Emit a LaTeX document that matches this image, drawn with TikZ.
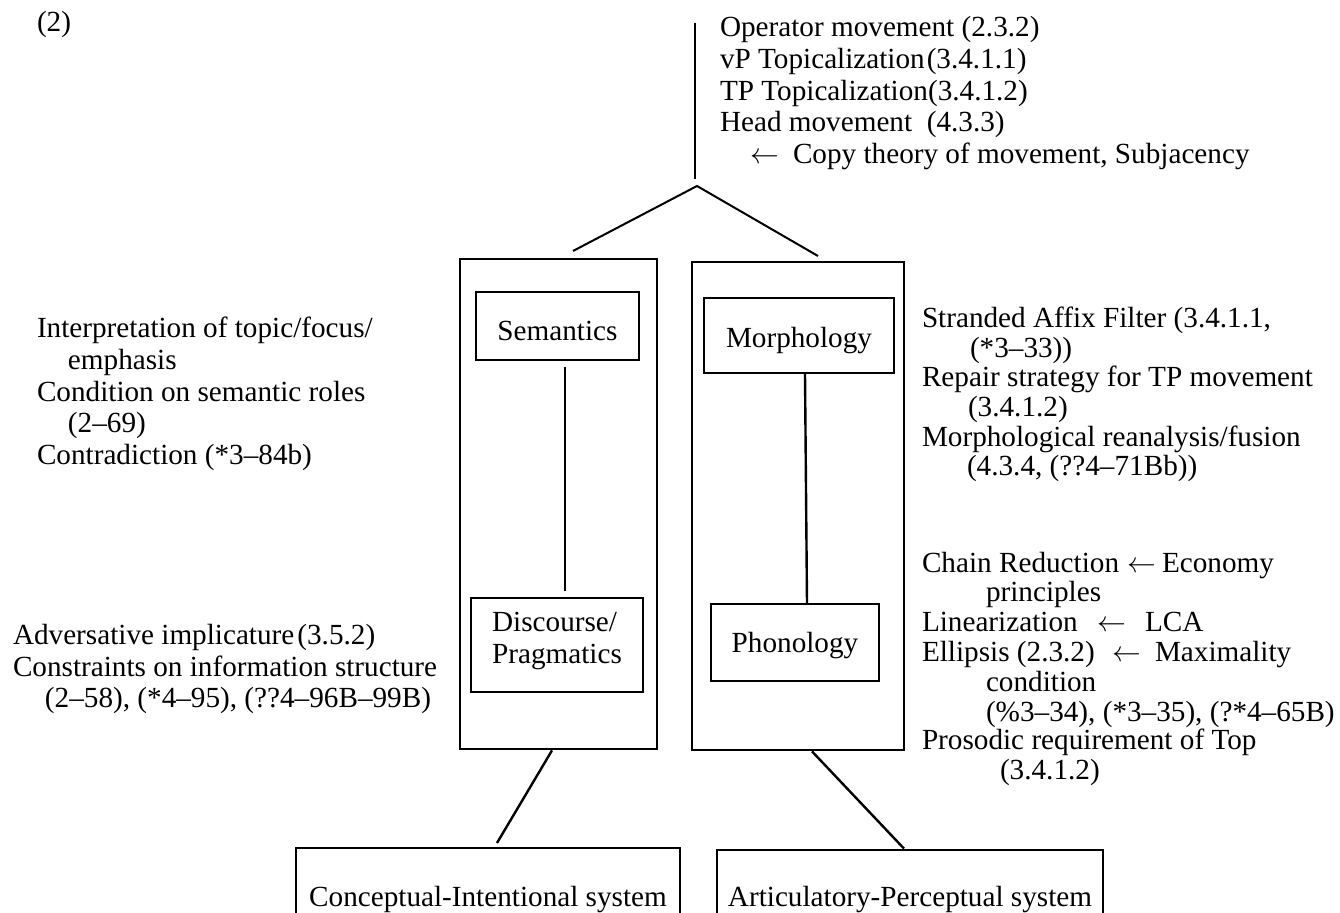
\documentclass[tikz,border=0pt]{standalone}
\usepackage{fontspec}
\setmainfont{Liberation Serif}
\newcommand{\bodysize}{\fontsize{14.6pt}{15.85pt}\selectfont}
\begin{document}
\begin{tikzpicture}[x=0.5pt,y=-0.5pt,
  txt/.style={anchor=base west, inner sep=0pt, outer sep=0pt, font=\bodysize},
  arrowmark/.style={txt, text height=6pt, text depth=0pt},
  module/.style={draw, line width=1.4pt, inner sep=0pt},
  unit/.style={draw, line width=0.75pt, inner sep=0pt, font=\bodysize},
  system/.style={draw, line width=1.4pt, inner sep=0pt, font=\bodysize},
  tree/.style={line width=1pt},
  link/.style={line width=0.75pt, shorten <=3pt, shorten >=3pt},
  linkthick/.style={line width=1.2pt},
  leg/.style={line width=1.2pt}]
\useasboundingbox (0,0) rectangle (1340,913);
\clip (0,0) rectangle (1340,913);

% example number
\node[txt] (num) at (37,32) {(2)};

% syntax: stem and branching point
\coordinate (root) at (695,23);
\coordinate (stem) at (695,179);
\coordinate (apex) at (697,186);
\coordinate (lfoot) at (573,251);
\coordinate (rfoot) at (818,256);
\draw[tree] (root) -- (stem);
\draw[tree] (lfoot) -- (apex) -- (rfoot);

% operations in the syntax
\node[txt] (op1) at (720,37)  {Operator movement (2.3.2)};
\node[txt] (op2) at (720,68.6)  {vP Topicalization\hspace{1pt}(3.4.1.1)};
\node[txt] (op3) at (720,100.2) {TP Topicalization(3.4.1.2)};
\node[txt] (op4) at (720,131.8) {Head movement\ \ (4.3.3)};
\node[arrowmark] (op5a) at (750,163.4) {$\leftarrow$};
\node[txt] (op5b) at (793,163.4) {Copy theory of movement, Subjacency};

% the two interface modules
\node[module, minimum width=98.5pt, minimum height=245pt] (sem-mod) at (558.5,504) {};
\node[module, minimum width=106pt, minimum height=244pt] (phon-mod) at (798,506) {};

\node[unit, minimum width=81.5pt, minimum height=34pt, text height=15pt, text depth=0pt] (sem) at (557.5,326) {Semantics};
\node[unit, minimum width=86pt, minimum height=47pt, text height=10pt, text depth=23pt] (disc) at (557,645)
  {\begin{tabular}[t]{@{}l@{}}Discourse/\\Pragmatics\end{tabular}};
\node[unit, minimum width=95pt, minimum height=37.5pt, text height=12.5pt, text depth=0pt] (morph) at (799,335.5) {Morphology};
\node[unit, minimum width=84pt, minimum height=38.5pt, text height=10.5pt, text depth=0pt] (phon) at (795,642.5) {Phonology};

\draw[link] ([xshift=3.75pt]sem.south) -- ([xshift=3.75pt]sem.south |- disc.north);
\draw[linkthick] ([xshift=3pt]morph.south) -- ([xshift=6pt]phon.north);

% external systems
\node[system, minimum width=192pt, minimum height=60pt, text height=10pt, text depth=11pt] (ci) at (488,908) {Conceptual-Intentional system};
\node[system, minimum width=193pt, minimum height=60pt, text height=10pt, text depth=13pt] (ap) at (910,910) {Articulatory-Perceptual system};

\coordinate (cifoot) at (497,843);
\draw[leg] ([xshift=-3.25pt]sem-mod.south) -- (cifoot);
\draw[leg] ([xshift=7pt]phon-mod.south) -- ([xshift=-3pt]ap.north);

% semantic side conditions
\node[txt] (sa1) at (37,338) {Interpretation of topic/focus/};
\node[txt] (sa2) at (68,370) {emphasis};
\node[txt] (sa3) at (37,402) {Condition on semantic roles};
\node[txt] (sa4) at (68,433) {(2–69)};
\node[txt] (sa5) at (37,465) {Contradiction (*3–84b)};

\node[txt] (sb1) at (13,645) {Adversative implicature\hspace{1.5pt}(3.5.2)};
\node[txt] (sb2) at (13,677) {Constraints on information structure};
\node[txt] (sb3) at (45,708) {(2–58), (*4–95), (??4–96B–99B)};

% morphological conditions
\node[txt] (ma1) at (922,328) {Stranded Affix Filter (3.4.1.1,};
\node[txt] (ma2) at (970,358) {(*3–33))};
\node[txt] (ma3) at (922,387) {Repair strategy for TP movement};
\node[txt] (ma4) at (968,417) {(3.4.1.2)};
\node[txt] (ma5) at (922,447) {Morphological reanalysis/fusion};
\node[txt] (ma6) at (967,476) {(4.3.4, (??4–71Bb))};

% phonological conditions
\node[txt] (pa1) at (922,573) {Chain Reduction};
\node[arrowmark] (pa1r) at (1127,573) {$\leftarrow$};
\node[txt] (pa1e) at (1162,573) {Economy};
\node[txt] (pa2) at (986,602) {principles};
\node[txt] (pa3) at (922,632) {Linearization};
\node[arrowmark] (pa3r) at (1097,632) {$\leftarrow$};
\node[txt] (pa3e) at (1145,632) {LCA};
\node[txt] (pa4) at (922,662) {Ellipsis (2.3.2)};
\node[arrowmark] (pa4r) at (1112,662) {$\leftarrow$};
\node[txt] (pa4e) at (1155,662) {Maximality};
\node[txt] (pa5) at (986,692) {condition};
\node[txt] (pa6) at (986,722) {(\%3–34), (*3–35), (?*4–65B)};
\node[txt] (pa7) at (922,750) {Prosodic requirement of Top};
\node[txt] (pa8) at (1000,780) {(3.4.1.2)};
\end{tikzpicture}
\end{document}
